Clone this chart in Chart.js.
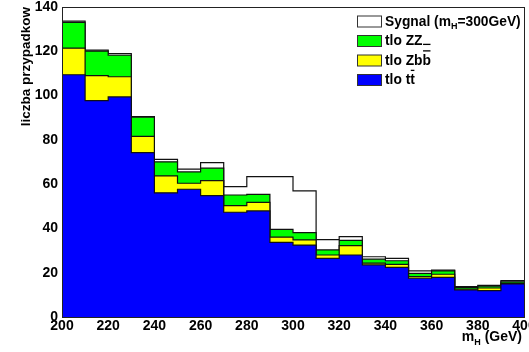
<!DOCTYPE html>
<html>
<head>
<meta charset="utf-8">
<script src="https://cdn.jsdelivr.net/npm/chart.js@4"></script>
<style>
  body { margin: 0; background: #fff; overflow: hidden; }
</style>
</head>
<body>
<canvas id="myChart" width="540" height="352"></canvas>
<script>
// bin edges of the m_H histogram (GeV)
const binEdges = [200, 210, 220, 230, 240, 250, 260, 270, 280, 290, 300,
  310, 320, 330, 340, 350, 360, 370, 380, 390, 400];

// per-bin contributions (events)
const ttbar = [109.4, 97.7, 99.4, 74.2, 56.1, 57.7, 54.8, 47.3, 47.9, 33.7,
  32.5, 26.5, 28.0, 23.5, 22.4, 17.5, 17.9, 12.2, 11.9, 14.9];
const zbb = [12.0, 11.3, 9.1, 7.4, 7.6, 2.7, 6.8, 3.0, 3.9, 2.4,
  2.3, 1.5, 4.2, 0.8, 1.4, 0.7, 1.4, 0.4, 1.2, 0.3];
const zz = [11.7, 11.1, 9.7, 8.6, 6.4, 5.1, 5.6, 4.8, 3.6, 3.5,
  3.3, 2.3, 2.4, 1.8, 1.6, 1.5, 1.5, 0.8, 0.8, 0.7];
const signal = [0.5, 0.4, 0.7, 0.3, 1.1, 1.3, 2.5, 3.8, 8.0, 23.8,
  18.9, 4.6, 1.7, 1.1, 1.1, 1.1, 0.4, 0.3, 0.4, 0.5];

const xTicks = [200, 220, 240, 260, 280, 300, 320, 340, 360, 380, 400];
const yTicks = [0, 20, 40, 60, 80, 100, 120, 140];

const FONT = "'Liberation Sans', Arial, Helvetica, sans-serif";

// stack like THStack: each layer is the sum of itself and everything below
const addArrays = (a, b) => a.map((v, i) => v + b[i]);
const stackTt = ttbar;
const stackZbb = addArrays(stackTt, zbb);
const stackZz = addArrays(stackZbb, zz);
const stackSig = addArrays(stackZz, signal);

// step points at bin edges (last bin repeated to close at 400)
const toSteps = (vals) => {
  let pts = vals.map((v, i) => ({ x: binEdges[i], y: v }));
  pts.push({ x: binEdges[binEdges.length - 1], y: vals[vals.length - 1] });
  return pts;
};

const histDataset = (label, vals, color) => ({
  label: label,
  data: toSteps(vals),
  stepped: true,
  fill: "origin",
  backgroundColor: color,
  borderColor: "#111",
  borderWidth: 1.2,
  pointRadius: 0,
});

// text with subscript / overline pieces
function drawRich(ctx, parts, x, y, size) {
  let cx = x;
  parts.forEach((p) => {
    if (p.sub) {
      ctx.font = "bold " + Math.round(size * 0.62) + "px " + FONT;
      ctx.fillText(p.t, cx, y + size * 0.3);
    } else {
      ctx.font = "bold " + size + "px " + FONT;
      ctx.fillText(p.t, cx, y);
    }
    let w = ctx.measureText(p.t).width;
    if (p.bar) {
      ctx.fillRect(cx + 0.5, y - size * 0.78, w - 1, 1.3);
    }
    if (p.extra) {
      ctx.fillRect(cx + 0.5, y - size * 0.78 - 6.5, w - 1, 1.3);
    }
    cx += w;
  });
  return cx;
}

const legendItems = [
  { color: "#ffffff", parts: [{ t: "Sygnal (m" }, { t: "H", sub: true }, { t: "=300GeV)" }] },
  { color: "#00ff00", parts: [{ t: "tlo ZZ" }] },
  { color: "#ffff00", parts: [{ t: "tlo Zb" }, { t: "b", bar: true, extra: true }] },
  { color: "#0000ff", parts: [{ t: "tlo t" }, { t: "t", bar: true }] },
];

const rootDecor = {
  id: "rootDecor",
  afterDatasetsDraw(chart) {
    const ctx = chart.ctx;
    const a = chart.chartArea;
    ctx.save();
    // frame
    ctx.strokeStyle = "#222";
    ctx.lineWidth = 1;
    ctx.strokeRect(Math.round(a.left) + 0.5, Math.round(a.top) + 0.5,
      Math.round(a.right - a.left), Math.round(a.bottom - a.top));

    // legend
    ctx.textBaseline = "middle";
    ctx.fillStyle = "#000";
    legendItems.forEach((it, i) => {
      let cy = 21.5 + i * 19.5;
      ctx.fillStyle = it.color;
      ctx.fillRect(357, cy - 5.5, 24, 11);
      ctx.strokeStyle = "#333";
      ctx.strokeRect(357.5, cy - 5.5, 24, 11);
      ctx.fillStyle = "#000";
      drawRich(ctx, it.parts, 385, cy + 0.5, 13.8);
    });

    // x axis title
    ctx.textBaseline = "alphabetic";
    ctx.textAlign = "left";
    const xTitle = [{ t: "m" }, { t: "H", sub: true }, { t: " (GeV)" }];
    let w = 0;
    xTitle.forEach((p) => {
      ctx.font = "bold " + (p.sub ? Math.round(14 * 0.62) : 14) + "px " + FONT;
      w += ctx.measureText(p.t).width;
    });
    drawRich(ctx, xTitle, 522 - w, 341, 14);
    ctx.restore();
  },
};

const ctx = document.getElementById("myChart").getContext("2d");

const config = {
  type: "line",
  data: {
    datasets: [
      histDataset("tlo tt", stackTt, "#0000ff"),
      histDataset("tlo Zbb", stackZbb, "#ffff00"),
      histDataset("tlo ZZ", stackZz, "#00ff00"),
      histDataset("Sygnal", stackSig, "#ffffff"),
    ],
  },
  options: {
    responsive: false,
    animation: false,
    layout: { padding: { top: 7, right: 16, left: 0, bottom: 0 } },
    plugins: {
      legend: { display: false },
      tooltip: { enabled: false },
    },
    scales: {
      x: {
        type: "linear",
        min: 200,
        max: 400,
        afterBuildTicks: (scale) => {
          scale.ticks = xTicks.map((v) => ({ value: v }));
        },
        afterFit: (scale) => {
          scale.height = 35;
          scale.paddingLeft = 0;
          scale.paddingRight = 0;
        },
        grid: { display: false, drawTicks: false },
        border: { display: true, color: "#222", width: 1 },
        ticks: {
          color: "#000",
          padding: 1,
          autoSkip: false,
          maxRotation: 0,
          font: { family: FONT, size: 14, weight: "bold" },
        },
      },
      y: {
        min: 0,
        max: 140,
        afterBuildTicks: (scale) => {
          scale.ticks = yTicks.map((v) => ({ value: v }));
        },
        afterFit: (scale) => {
          scale.width = 62;
          scale.paddingTop = 0;
          scale.paddingBottom = 0;
        },
        grid: { display: false, drawTicks: false },
        border: { display: true, color: "#222", width: 1 },
        ticks: {
          color: "#000",
          padding: 4,
          font: { family: FONT, size: 14, weight: "bold" },
        },
        title: {
          display: true,
          text: "liczba przypadkow",
          align: "end",
          color: "#000",
          padding: { top: 18, bottom: 0 },
          font: { family: FONT, size: 13.5, weight: "bold" },
        },
      },
    },
  },
  plugins: [rootDecor],
};

const myChart = new Chart(ctx, config);
</script>
</body>
</html>
